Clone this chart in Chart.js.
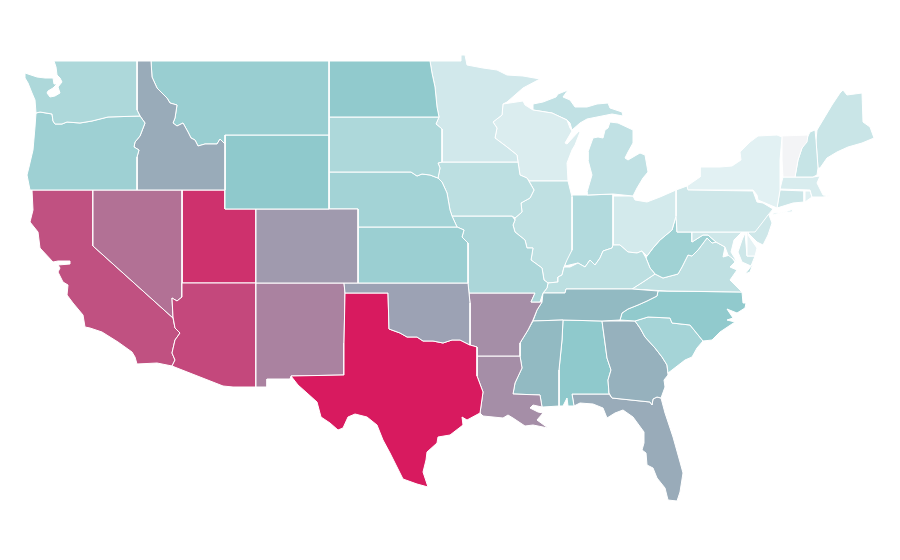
<!DOCTYPE html>
<html>
<head>
<meta charset="utf-8">
<title>US states choropleth</title>
<script src="https://cdn.jsdelivr.net/npm/chart.js@4"></script>
<style>
  html, body { margin: 0; padding: 0; background: #fff; }
  #map { display: block; }
</style>
</head>
<body>
<canvas id="map" width="900" height="560"></canvas>
<script>
// outlines are [x, y] in map units
const WA = [[54,61],[137,61],[137,110],[140,116],[108,117],[92,121],[80,123],[67,122],[62,124],[55,124],[53,121],[52,114],[40,112],[36,113],[35,100],[32,93],[28,83],[25,78],[25,73],[37,77],[45,78],[53,78],[54,84],[57,84],[53,88],[48,91],[47,93],[50,97],[55,96],[60,93],[58,87],[62,82],[60,78],[57,75],[56,67]];
const OR = [[36,113],[40,112],[52,114],[53,121],[55,124],[62,124],[67,122],[80,123],[92,121],[108,117],[140,116],[145,123],[140,136],[135,142],[134,147],[139,150],[137,157],[137,190],[30,190],[27,175],[29,167],[33,150],[35,127]];
const ID = [[137,61],[151,61],[152,77],[157,88],[167,98],[170,103],[177,105],[175,118],[173,123],[177,126],[183,123],[188,132],[191,138],[195,140],[198,146],[205,144],[217,144],[220,139],[225,144],[225,190],[137,190],[137,157],[139,150],[134,147],[135,142],[140,136],[145,123],[140,116],[137,110]];
const MT = [[151,61],[329,61],[329,135],[225,135],[225,144],[220,139],[217,144],[205,144],[198,146],[195,140],[191,138],[188,132],[183,123],[177,126],[173,123],[175,118],[177,105],[170,103],[167,98],[157,88],[152,77]];
const WY = [[225,135],[329,135],[329,209],[225,209]];
const CO = [[256,209],[358,209],[358,283],[256,283]];
const ND = [[329,61],[430,61],[432,73],[435,87],[437,107],[439,117],[329,117]];
const SD = [[329,117],[439,117],[436,124],[442,129],[442,162],[438,163],[440,168],[438,178],[430,175],[422,174],[417,176],[411,172],[329,172]];
const NE = [[329,172],[411,172],[417,176],[422,174],[430,175],[438,178],[442,182],[447,193],[450,210],[452,216],[457,227],[358,227],[358,209],[329,209]];
const KS = [[358,227],[457,227],[464,230],[462,237],[468,243],[468,283],[358,283]];
const OK = [[344,283],[468,283],[469,293],[470,303],[470,345],[460,340],[452,340],[443,343],[433,341],[423,341],[417,337],[407,337],[400,333],[389,329],[388,293],[345,293]];
const TX = [[345,293],[388,293],[389,329],[400,333],[407,337],[417,337],[423,341],[433,341],[443,343],[452,340],[460,340],[470,345],[477,347],[477,376],[483,392],[480,413],[467,420],[462,417],[463,425],[450,435],[438,437],[437,443],[427,452],[426,460],[423,472],[428,487],[417,484],[403,479],[397,467],[390,453],[383,440],[377,425],[367,417],[355,414],[348,417],[343,428],[338,430],[330,423],[321,417],[317,402],[307,393],[298,385],[291,376],[344,375],[344,343]];
const NM = [[256,283],[344,283],[345,293],[344,343],[344,375],[291,376],[290,379],[267,379],[267,387],[256,387]];
const AZ = [[182,283],[256,283],[256,387],[233,387],[223,386],[177,368],[172,366],[175,360],[172,353],[175,340],[180,333],[175,328],[173,317],[172,298],[177,301],[182,297]];
const NV = [[93,190],[182,190],[182,297],[177,301],[172,298],[173,318],[93,246]];
const UT = [[182,190],[225,190],[225,209],[256,209],[256,283],[182,283]];
const CA = [[32,190],[93,190],[93,246],[173,318],[175,328],[180,333],[175,340],[172,353],[175,360],[172,366],[157,363],[137,364],[135,357],[132,352],[118,342],[102,332],[90,328],[85,327],[83,315],[73,303],[67,295],[68,285],[63,282],[58,272],[60,268],[58,265],[70,264],[70,261],[58,261],[53,262],[40,248],[38,232],[30,222],[33,210]];
const MN = [[430,61],[461,61],[461,55],[465,55],[467,65],[483,68],[497,70],[507,75],[523,76],[540,79],[523,88],[507,102],[503,104],[502,115],[493,122],[497,128],[495,138],[507,147],[517,155],[518,162],[442,162],[442,129],[436,124],[439,117],[437,107],[435,87],[432,73]];
const IA = [[442,162],[518,162],[520,175],[527,178],[534,190],[530,198],[521,203],[522,212],[515,218],[512,216],[452,216],[450,210],[447,193],[442,182],[438,178],[440,168],[438,163]];
const MO = [[452,216],[512,216],[515,220],[513,225],[515,232],[525,240],[527,248],[533,248],[531,260],[542,268],[544,280],[548,283],[547,288],[543,293],[540,302],[531,302],[535,293],[469,293],[468,283],[468,243],[462,237],[464,230],[457,227]];
const AR = [[469,293],[535,293],[531,302],[542,302],[537,310],[533,320],[528,330],[520,343],[520,356],[477,356],[477,347],[470,345],[470,303]];
const LA = [[477,356],[520,356],[522,368],[515,383],[513,394],[540,395],[542,407],[533,405],[530,408],[538,412],[543,413],[537,420],[548,428],[533,425],[525,426],[513,418],[508,415],[503,418],[483,416],[480,413],[483,392],[477,376]];
const MS = [[533,321],[563,320],[562,340],[559,370],[559,406],[543,407],[542,407],[540,395],[513,394],[515,383],[522,368],[520,356],[520,343],[528,330]];
const TN = [[543,293],[565,293],[566,289],[632,289],[658,291],[657,296],[647,301],[638,305],[628,309],[622,313],[620,320],[602,321],[563,320],[533,321],[537,310],[542,302]];
const KY = [[547,288],[548,283],[558,282],[558,277],[562,275],[564,267],[570,267],[578,263],[585,267],[590,260],[595,265],[600,258],[603,251],[612,248],[613,245],[620,245],[628,252],[637,253],[642,251],[646,258],[650,268],[655,274],[643,282],[632,289],[566,289],[565,293],[543,293]];
const IL = [[529,181],[568,181],[572,197],[572,250],[567,260],[564,267],[562,275],[558,277],[558,282],[548,283],[544,280],[542,268],[531,260],[533,248],[527,248],[525,240],[515,232],[513,225],[515,220],[515,218],[522,212],[521,203],[530,198],[534,190]];
const WI = [[503,104],[523,101],[525,105],[533,110],[552,113],[567,120],[570,128],[572,131],[565,143],[567,144],[579,131],[580,132],[575,145],[572,150],[567,163],[568,181],[529,181],[527,178],[520,175],[518,162],[517,155],[507,147],[495,138],[497,128],[493,122],[502,115]];
const MI_UPPER = [[533,104],[543,102],[556,97],[558,94],[568,90],[563,97],[570,100],[575,107],[587,107],[597,104],[608,103],[610,108],[622,112],[623,116],[612,114],[597,117],[587,119],[580,123],[572,130],[570,123],[567,120],[552,113],[533,110]];
const MI_LOWER = [[587,195],[613,194],[633,196],[637,188],[643,178],[648,172],[645,155],[640,153],[628,160],[625,158],[628,152],[633,143],[633,130],[618,123],[610,122],[608,128],[605,130],[603,138],[598,137],[593,138],[588,152],[588,160],[592,175],[587,192]];
const IN = [[572,195],[590,195],[613,194],[613,245],[612,248],[603,251],[600,258],[595,265],[590,260],[585,267],[578,263],[565,266],[565,260],[572,250]];
const OH = [[613,196],[633,196],[635,200],[647,202],[660,197],[676,190],[676,216],[672,230],[660,240],[653,248],[647,256],[642,251],[637,253],[628,252],[620,245],[613,245]];
const PA = [[676,190],[687,186],[688,190],[753,191],[757,202],[763,203],[773,209],[768,215],[762,223],[755,232],[677,232],[676,216]];
const NY = [[687,186],[687,190],[753,190],[757,195],[758,200],[770,205],[777,208],[780,190],[780,160],[782,137],[777,135],[758,136],[750,142],[740,152],[741,160],[732,166],[720,167],[700,167],[700,177]];
const NY_ISLAND = [[773,213],[785,212],[793,209],[792,212],[780,213],[773,215]];
const VT = [[782,136],[808,135],[807,142],[802,148],[798,160],[795,177],[783,177],[782,160]];
const NH = [[795,177],[798,160],[802,148],[810,132],[815,130],[816,140],[818,168],[817,175],[813,177]];
const ME = [[817,130],[832,105],[840,93],[843,90],[847,95],[862,93],[863,122],[870,127],[874,138],[862,143],[848,147],[837,152],[827,158],[820,168],[818,168],[816,140]];
const MA = [[783,177],[813,177],[820,176],[817,183],[823,195],[830,196],[823,197],[812,197],[810,190],[780,189]];
const CT = [[780,190],[804,191],[804,202],[793,203],[777,208]];
const RI = [[805,191],[810,191],[812,197],[805,202]];
const NJ = [[762,203],[773,209],[769,215],[772,223],[768,235],[763,245],[757,242],[748,233],[760,223],[755,215],[760,205]];
const DE = [[747,232],[750,231],[748,235],[757,248],[755,256],[747,256]];
const MD_WEST = [[692,232],[742,232],[734,240],[731,252],[737,262],[728,255],[725,247],[716,242],[708,235],[703,235],[692,242]];
const MD_EAST = [[745,233],[747,256],[755,256],[751,266],[742,262],[738,252],[742,240]];
const WV = [[676,216],[677,232],[692,232],[692,242],[703,235],[708,235],[716,242],[712,243],[707,238],[698,250],[692,256],[688,255],[682,267],[678,274],[663,278],[655,274],[650,268],[646,258],[647,256],[653,248],[660,240],[672,230]];
const VA = [[632,289],[643,282],[655,274],[663,278],[678,274],[682,267],[688,255],[692,256],[698,250],[707,238],[712,243],[716,242],[725,247],[723,257],[730,255],[735,262],[730,267],[737,270],[730,280],[737,287],[742,292],[667,291]];
const VA_SHORE = [[752,265],[755,258],[750,272],[745,274]];
const NC = [[658,291],[742,292],[743,303],[746,303],[745,308],[737,313],[727,309],[733,318],[727,320],[735,322],[720,332],[712,340],[703,341],[690,325],[672,323],[670,318],[648,317],[635,321],[620,320],[622,313],[628,309],[638,305],[647,301],[657,296]];
const SC = [[635,321],[648,317],[670,318],[672,323],[690,325],[703,341],[697,348],[692,357],[685,360],[672,370],[668,373],[667,365],[662,357],[655,348],[645,337],[640,328]];
const GA = [[602,321],[635,321],[640,328],[645,337],[655,348],[662,357],[667,365],[668,375],[664,380],[665,387],[661,398],[657,397],[653,399],[652,405],[650,402],[612,398],[609,393],[608,380],[611,370],[607,358],[605,343]];
const AL = [[563,320],[602,321],[605,343],[607,358],[611,370],[608,380],[609,394],[572,394],[574,406],[568,406],[567,398],[563,406],[559,406],[559,370],[562,340]];
const FL = [[572,394],[609,394],[612,398],[650,402],[652,405],[653,399],[657,397],[661,398],[665,413],[673,437],[680,462],[683,473],[680,492],[677,501],[668,500],[665,488],[657,478],[653,468],[647,465],[646,453],[642,450],[644,443],[644,432],[633,417],[623,410],[615,413],[607,418],[603,408],[593,404],[580,403],[574,406]];

const stateNames  = ['Washington','Oregon','Idaho','Montana','Wyoming','Colorado','North Dakota','South Dakota','Nebraska','Kansas','Oklahoma','Texas','New Mexico','Arizona','Nevada','Utah','California','Minnesota','Iowa','Missouri','Arkansas','Louisiana','Mississippi','Tennessee','Kentucky','Illinois','Wisconsin','Michigan','Michigan','Indiana','Ohio','Pennsylvania','New York','New York','Vermont','New Hampshire','Maine','Massachusetts','Connecticut','Rhode Island','New Jersey','Delaware','Maryland','Maryland','West Virginia','Virginia','Virginia','North Carolina','South Carolina','Georgia','Alabama','Florida'];
const stateShapes = [WA,OR,ID,MT,WY,CO,ND,SD,NE,KS,OK,TX,NM,AZ,NV,UT,CA,MN,IA,MO,AR,LA,MS,TN,KY,IL,WI,MI_UPPER,MI_LOWER,IN,OH,PA,NY,NY_ISLAND,VT,NH,ME,MA,CT,RI,NJ,DE,MD_WEST,MD_EAST,WV,VA,VA_SHORE,NC,SC,GA,AL,FL];
const stateValues = [27,33,50,35,39,56,38,27,31,34,53,100,64,84,70,92,81,13,21,28,60,60,45,45,21,20,9,19,19,25,12,14,6,6,0,17,16,10,15,7,14,5,14,14,32,20,20,38,30,48,39,50];

// colour ramp: grey-white at 0, pale teal at 5, teal at 40, crimson at 100
const rampStops  = [0, 5, 40, 100];
const rampColors = [[243,244,246],[229,242,244],[140,200,203],[216,26,95]];

function colorFor(v) {
  let k = 0;
  while (k < rampStops.length - 2 && v > rampStops[k + 1]) k++;
  const t = (v - rampStops[k]) / (rampStops[k + 1] - rampStops[k]);
  const a = rampColors[k], b = rampColors[k + 1];
  const mix = (i) => Math.round(a[i] + (b[i] - a[i]) * t);
  return `rgb(${mix(0)},${mix(1)},${mix(2)})`;
}

new Chart(document.getElementById('map').getContext('2d'), {
  type: 'scatter',
  data: {
    datasets: stateShapes.map((shape, i) => ({
      label: stateNames[i],
      data: shape.concat([shape[0]]),
      showLine: true,
      fill: 'shape',
      backgroundColor: colorFor(stateValues[i]),
      borderColor: '#ffffff',
      borderWidth: 1,
      borderJoinStyle: 'round',
      pointRadius: 0,
      pointHoverRadius: 0,
      tension: 0,
    })),
  },
  options: {
    responsive: false,
    animation: false,
    layout: { padding: 0 },
    plugins: { legend: { display: false }, tooltip: { enabled: false } },
    scales: {
      x: { type: 'linear', min: 0, max: 900, display: false },
      y: { type: 'linear', min: 0, max: 560, reverse: true, display: false },
    },
  },
});
</script>
</body>
</html>
